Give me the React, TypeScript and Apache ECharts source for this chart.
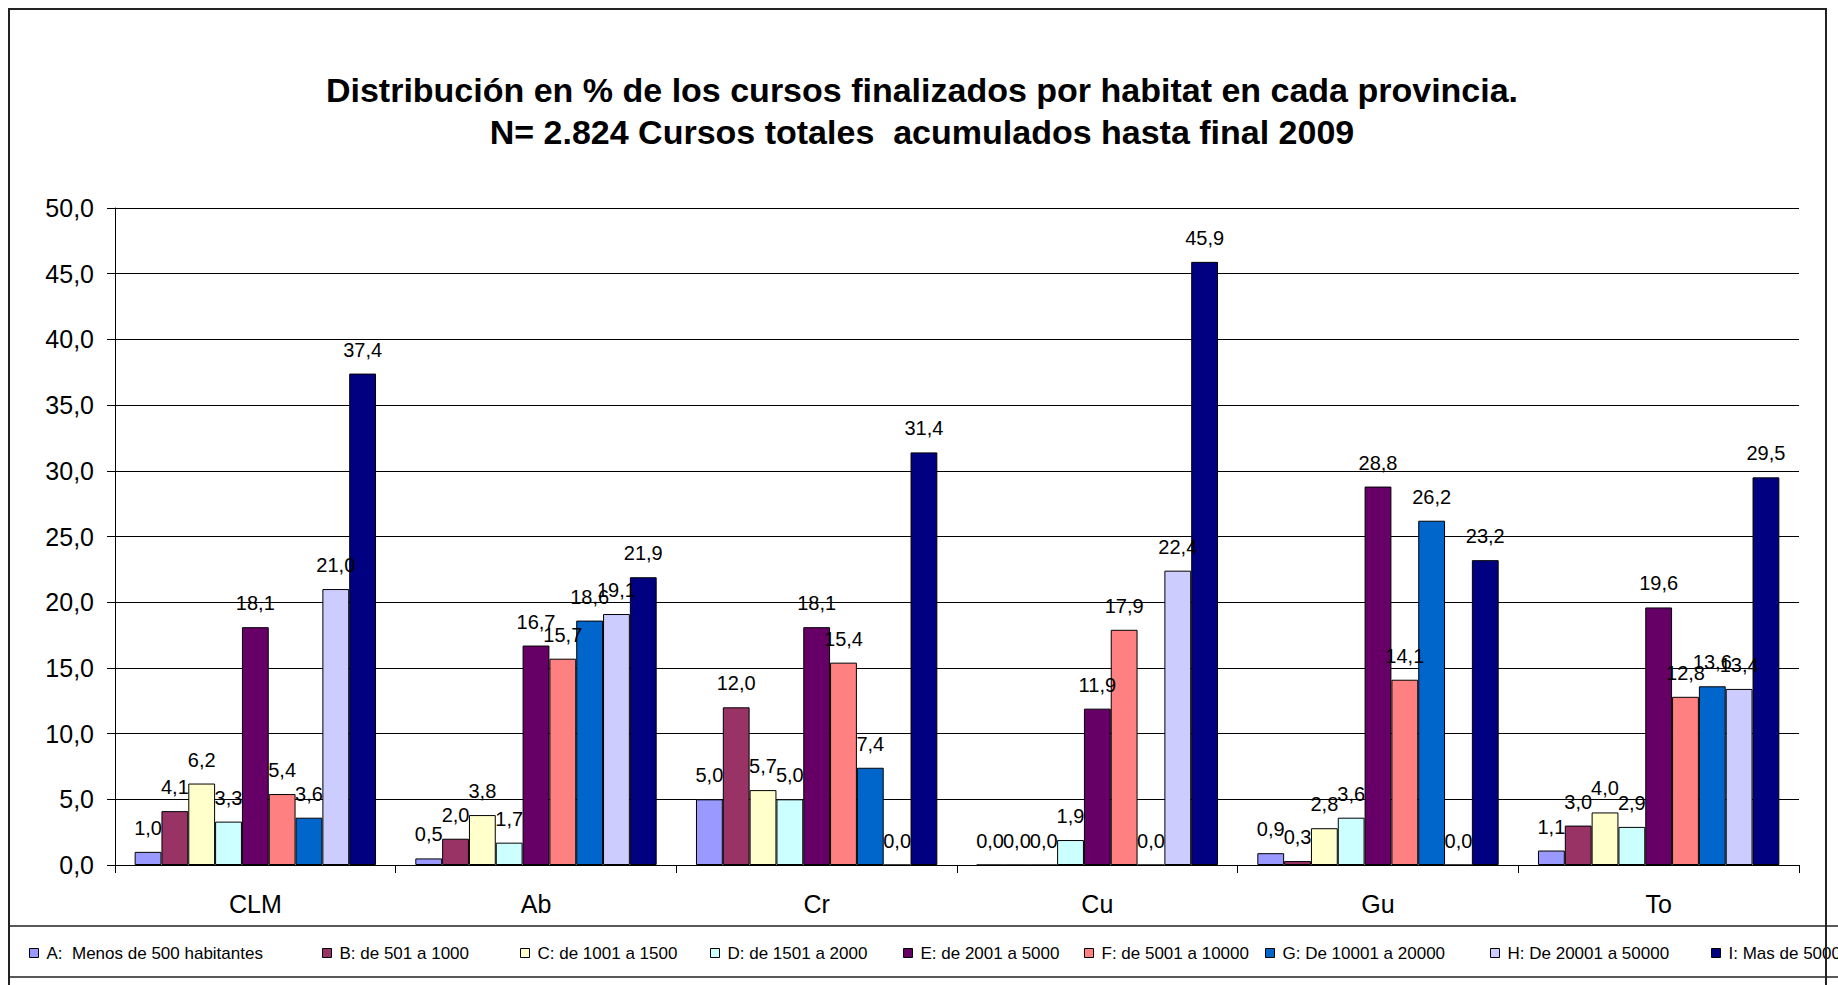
import React, { useEffect, useRef } from "react";
import * as echarts from "echarts";

const categories = ["CLM", "Ab", "Cr", "Cu", "Gu", "To"];
const seriesNames = [
  "A:  Menos de 500 habitantes",
  "B: de 501 a 1000",
  "C: de 1001 a 1500",
  "D: de 1501 a 2000",
  "E: de 2001 a 5000",
  "F: de 5001 a 10000",
  "G: De 10001 a 20000",
  "H: De 20001 a 50000",
  "I: Mas de 50000",
];
const seriesA = [1.0, 0.5, 5.0, 0.0, 0.9, 1.1];
const seriesB = [4.1, 2.0, 12.0, 0.0, 0.3, 3.0];
const seriesC = [6.2, 3.8, 5.7, 0.0, 2.8, 4.0];
const seriesD = [3.3, 1.7, 5.0, 1.9, 3.6, 2.9];
const seriesE = [18.1, 16.7, 18.1, 11.9, 28.8, 19.6];
const seriesF = [5.4, 15.7, 15.4, 17.9, 14.1, 12.8];
const seriesG = [3.6, 18.6, 7.4, 0.0, 26.2, 13.6];
const seriesH = [21.0, 19.1, 0.0, 22.4, 0.0, 13.4];
const seriesI = [37.4, 21.9, 31.4, 45.9, 23.2, 29.5];
const allSeries = [seriesA, seriesB, seriesC, seriesD, seriesE, seriesF, seriesG, seriesH, seriesI];
const colors = ["#9999FF", "#993366", "#FFFFCC", "#CCFFFF", "#660066", "#FF8080", "#0066CC", "#CCCCFF", "#000080"];
const yMin = 0;
const yMax = 50;
const yInterval = 5;
const titleText =
  "Distribución en % de los cursos finalizados por habitat en cada provincia.\nN= 2.824 Cursos totales  acumulados hasta final 2009";

const legendLefts = [29, 322, 520, 710, 903, 1084, 1265, 1490, 1711];

const FONT = "'Liberation Sans', Arial, sans-serif";
const fmt = (v: number) => v.toFixed(1).replace(".", ",");

export default function App() {
  const ref = useRef<HTMLDivElement>(null);
  useEffect(() => {
    if (!ref.current) return;
    const chart = echarts.init(ref.current, null, { renderer: "svg" });
    chart.setOption({
      animation: false,
      backgroundColor: "#ffffff",
      textStyle: { fontFamily: FONT },
      title: {
        text: titleText,
        left: 917,
        top: 64,
        textAlign: "center",
        textStyle: {
          fontFamily: FONT,
          fontSize: 34,
          fontWeight: "bold",
          color: "#000",
          lineHeight: 42,
        },
      },
      legend: seriesNames.map((n, i) => ({
        data: [n],
        left: legendLefts[i],
        top: 944,
        padding: 0,
        itemWidth: 9,
        itemHeight: 9,
        icon: "rect",
        selectedMode: false,
        itemStyle: { borderColor: "#000", borderWidth: 1 },
        textStyle: { fontFamily: FONT, fontSize: 17, color: "#000", lineHeight: 18, padding: [0, 0, 0, 3] },
      })),
      grid: { left: 115, right: 39, top: 208, bottom: 120, containLabel: false },
      xAxis: {
        type: "category",
        data: categories,
        boundaryGap: true,
        axisLine: { show: true, lineStyle: { color: "#000", width: 1 } },
        axisTick: { show: true, length: 8, lineStyle: { color: "#000" }, alignWithLabel: false },
        axisLabel: { fontFamily: FONT, fontSize: 25, color: "#000", margin: 26 },
        splitLine: { show: false },
      },
      yAxis: {
        type: "value",
        min: yMin,
        max: yMax,
        interval: yInterval,
        axisLine: { show: true, lineStyle: { color: "#000", width: 1 } },
        axisTick: { show: true, length: 8, lineStyle: { color: "#000" } },
        axisLabel: { fontFamily: FONT, fontSize: 25, color: "#000", margin: 21, formatter: (v: number) => fmt(v) },
        splitLine: { show: true, lineStyle: { color: "#000", width: 1 } },
      },
      series: allSeries.map((d, i) => ({
        type: "bar",
        name: seriesNames[i],
        data: d,
        barGap: "0%",
        barCategoryGap: "14%",
        itemStyle: { color: colors[i], borderColor: "#000", borderWidth: 1 },
        label: {
          show: true,
          position: "top",
          distance: 14,
          fontFamily: FONT,
          fontSize: 20,
          color: "#000",
          formatter: (p: any) => fmt(p.value),
        },
      })),
      graphic: [
        {
          type: "rect",
          shape: { x: 9, y: 9, width: 1817, height: 1000 },
          style: { fill: "none", stroke: "#222", lineWidth: 2 },
          silent: true,
          z: 100,
        },
        {
          type: "line",
          shape: { x1: 8, y1: 926, x2: 1860, y2: 926 },
          style: { stroke: "#222", lineWidth: 1.5 },
          silent: true,
        },
        {
          type: "line",
          shape: { x1: 8, y1: 977, x2: 1860, y2: 977 },
          style: { stroke: "#222", lineWidth: 1.5 },
          silent: true,
        },
      ],
    });
    return () => chart.dispose();
  }, []);
  return (
    <div
      ref={ref}
      style={{ position: "absolute", left: 0, top: 0, width: 1838, height: 985 }}
    />
  );
}
